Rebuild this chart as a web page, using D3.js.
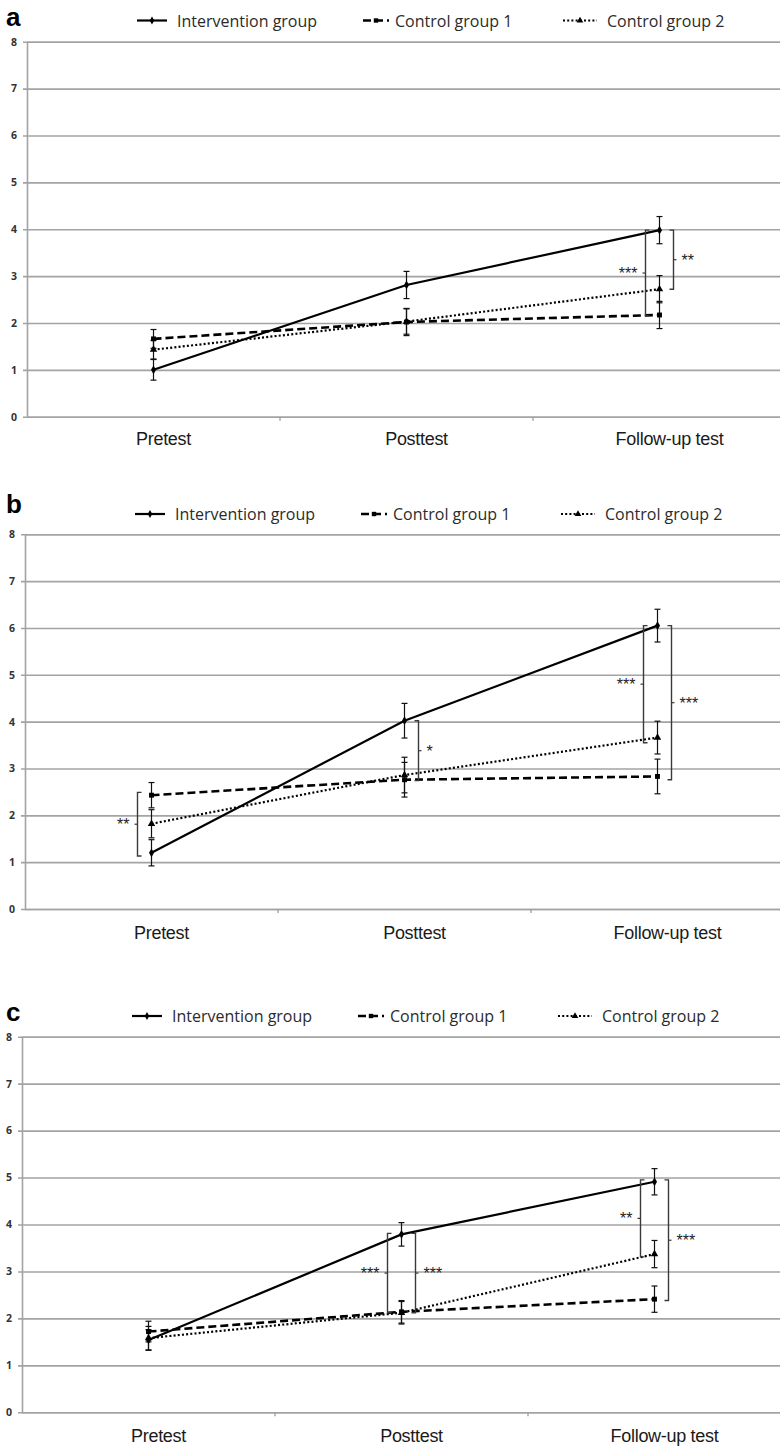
<!DOCTYPE html>
<html>
<head>
<meta charset="utf-8">
<script src="https://cdn.jsdelivr.net/npm/d3@7"></script>
<style>
  html, body { margin: 0; padding: 0; background: #fff; }
  svg { display: block; }
</style>
</head>
<body>
<svg id="chart" width="780" height="1448"></svg>
<script>
// ---------------- DATA ----------------
const categories = ["Pretest", "Posttest", "Follow-up test"];
const seriesNames = ["Intervention group", "Control group 1", "Control group 2"];
const yTicks = [0, 1, 2, 3, 4, 5, 6, 7, 8];
const panelLetters = ["a", "b", "c"];

// Panel a
const aIntervention = [1.00, 2.81, 3.98];
const aInterventionErr = [0.22, 0.29, 0.29];
const aControl1 = [1.66, 2.02, 2.17];
const aControl1Err = [0.20, 0.29, 0.29];
const aControl2 = [1.43, 2.03, 2.72];
const aControl2Err = [0.20, 0.27, 0.29];
const aBrackets = [
  { cat: 2, from: 3.98, to: 2.15, side: "left", label: "***" },
  { cat: 2, from: 3.98, to: 2.72, side: "right", label: "**" }
];

// Panel b
const bIntervention = [1.20, 4.02, 6.05];
const bInterventionErr = [0.28, 0.37, 0.35];
const bControl1 = [2.43, 2.76, 2.83];
const bControl1Err = [0.27, 0.37, 0.37];
const bControl2 = [1.82, 2.86, 3.66];
const bControl2Err = [0.30, 0.38, 0.35];
const bBrackets = [
  { cat: 0, from: 2.49, to: 1.13, side: "left", label: "**" },
  { cat: 1, from: 4.02, to: 2.74, side: "right", label: "*" },
  { cat: 2, from: 6.05, to: 3.55, side: "left", label: "***" },
  { cat: 2, from: 6.05, to: 2.76, side: "right", label: "***" }
];

// Panel c
const cIntervention = [1.54, 3.79, 4.91];
const cInterventionErr = [0.22, 0.25, 0.28];
const cControl1 = [1.72, 2.14, 2.41];
const cControl1Err = [0.22, 0.24, 0.28];
const cControl2 = [1.58, 2.12, 3.37];
const cControl2Err = [0.25, 0.24, 0.29];
const cBrackets = [
  { cat: 1, from: 3.81, to: 2.12, side: "left", label: "***" },
  { cat: 1, from: 3.81, to: 2.12, side: "right", label: "***" },
  { cat: 2, from: 4.95, to: 3.31, side: "left", label: "**" },
  { cat: 2, from: 4.95, to: 2.38, side: "right", label: "***" }
];

// ---------------- LAYOUT / STYLE ----------------
const layouts = [
  { axisX: 27, y0: 416.7, y8: 41.7, legendBase: 26.5, letterBase: 26, labelBase: 445 },
  { axisX: 25, y0: 909, y8: 534.3, legendBase: 520, letterBase: 513, labelBase: 938.5 },
  { axisX: 22, y0: 1412.3, y8: 1036.7, legendBase: 1022, letterBase: 1021, labelBase: 1442.5 }
];
const step = 253;
const W = 780;
const gridColor = "#a3a3a3";
const seriesStyles = [
  { dash: null, width: 2.2, symbol: d3.symbolDiamond, size: 22 },
  { dash: "8,4", width: 2.6, symbol: d3.symbolSquare, size: 24 },
  { dash: "2,2.2", width: 2.2, symbol: d3.symbolTriangle, size: 24 }
];
const legendOffsets = [
  { x0: 110, x1: 140, tx: 150 },
  { x0: 336, x1: 362, tx: 368 },
  { x0: 536, x1: 570, tx: 580 }
];

const panelData = [
  { values: [aIntervention, aControl1, aControl2], errs: [aInterventionErr, aControl1Err, aControl2Err], brackets: aBrackets },
  { values: [bIntervention, bControl1, bControl2], errs: [bInterventionErr, bControl1Err, bControl2Err], brackets: bBrackets },
  { values: [cIntervention, cControl1, cControl2], errs: [cInterventionErr, cControl1Err, cControl2Err], brackets: cBrackets }
];

const svg = d3.select("#chart");

panelData.forEach((pd, pi) => {
  const L = layouts[pi];
  const g = svg.append("g");
  const x = d3.scaleBand().domain(categories).range([L.axisX, L.axisX + step * categories.length]).paddingInner(0).paddingOuter(0);
  const y = d3.scaleLinear().domain([0, 8]).range([L.y0, L.y8]);
  const cx = c => x(c) + x.bandwidth() / 2;

  // y axis with gridlines
  const yAxis = d3.axisLeft(y).tickValues(yTicks).tickSize(-(W - L.axisX)).tickPadding(10).tickFormat(d3.format("d"));
  const ya = g.append("g").attr("transform", `translate(${L.axisX},0)`).call(yAxis);
  ya.select(".domain").attr("stroke", gridColor).attr("stroke-width", 1.6);
  ya.selectAll(".tick line").attr("x1", -4).attr("stroke", gridColor).attr("stroke-width", 1.6);
  ya.selectAll(".tick text")
    .attr("fill", "#333")
    .style("font-family", "'Open Sans', sans-serif")
    .style("font-weight", "bold")
    .style("font-size", "10.5px");

  // x axis
  const xAxis = d3.axisBottom(x).tickSize(0).tickPadding(0);
  const xa = g.append("g").attr("transform", `translate(0,${L.y0})`).call(xAxis);
  xa.select(".domain").remove();
  xa.selectAll(".tick text")
    .attr("y", L.labelBase - L.y0)
    .attr("dy", 0)
    .attr("dx", 10)
    .attr("fill", "#1a1a1a")
    .style("font-family", "'Liberation Sans', Arial, sans-serif")
    .style("font-size", "18px")
    .style("letter-spacing", "-0.3px");
  // category boundary ticks
  g.selectAll(".bt").data(categories.slice(0, categories.length - 1)).enter().append("line")
    .attr("x1", c => x(c) + x.bandwidth()).attr("x2", c => x(c) + x.bandwidth())
    .attr("y1", L.y0).attr("y2", L.y0 + 4)
    .attr("stroke", gridColor).attr("stroke-width", 1.4);

  // series lines
  pd.values.forEach((vals, si) => {
    const st = seriesStyles[si];
    const line = d3.line().x((d, i) => cx(categories[i])).y(d => y(d));
    g.append("path").datum(vals)
      .attr("d", line)
      .attr("fill", "none")
      .attr("stroke", "#000")
      .attr("stroke-width", st.width)
      .attr("stroke-dasharray", st.dash);
  });

  // error bars
  pd.values.forEach((vals, si) => {
    const errs = pd.errs[si];
    vals.forEach((v, i) => {
      const px = cx(categories[i]);
      const top = y(v + errs[i]), bot = y(v - errs[i]);
      g.append("line").attr("x1", px).attr("x2", px).attr("y1", top).attr("y2", bot).attr("stroke", "#111").attr("stroke-width", 1.2);
      [top, bot].forEach(yy => {
        g.append("line").attr("x1", px - 3).attr("x2", px + 3).attr("y1", yy).attr("y2", yy).attr("stroke", "#111").attr("stroke-width", 1.2);
      });
    });
  });

  // markers
  pd.values.forEach((vals, si) => {
    const st = seriesStyles[si];
    g.selectAll(null).data(vals).enter().append("path")
      .attr("d", d3.symbol().type(st.symbol).size(st.size))
      .attr("transform", (d, i) => `translate(${cx(categories[i])},${y(d)})`)
      .attr("fill", "#000");
  });

  // significance brackets
  pd.brackets.forEach(b => {
    const px = cx(categories[b.cat]);
    const dir = b.side === "left" ? -1 : 1;
    const bx = px + dir * 14;
    const y1 = y(b.from), y2 = y(b.to);
    const ym = (y1 + y2) / 2;
    const tick = -dir * 4; // end ticks point toward data
    g.append("path")
      .attr("d", `M${bx + tick},${y1} L${bx},${y1} L${bx},${y2} L${bx + tick},${y2}`)
      .attr("fill", "none").attr("stroke", "#3a3a3a").attr("stroke-width", 1.4);
    g.append("line").attr("x1", bx).attr("x2", bx + dir * 3).attr("y1", ym).attr("y2", ym)
      .attr("stroke", "#3a3a3a").attr("stroke-width", 1.2);
    g.append("text")
      .attr("x", bx + dir * 8)
      .attr("y", ym - 3 + 9)
      .attr("text-anchor", b.side === "left" ? "end" : "start")
      .attr("fill", "#222")
      .style("font-family", "'Liberation Sans', Arial, sans-serif")
      .style("font-size", "16px")
      .text(b.label);
  });

  // panel letter
  g.append("text")
    .attr("x", 6).attr("y", L.letterBase)
    .attr("fill", "#000")
    .style("font-family", "'Liberation Sans', Arial, sans-serif")
    .style("font-weight", "bold")
    .style("font-size", "26px")
    .text(panelLetters[pi]);

  // legend
  seriesNames.forEach((name, si) => {
    const st = seriesStyles[si];
    const lo = legendOffsets[si];
    const ly = L.legendBase - 6;
    const x0 = L.axisX + lo.x0, x1 = L.axisX + lo.x1;
    g.append("line").attr("x1", x0).attr("x2", x1).attr("y1", ly).attr("y2", ly)
      .attr("stroke", "#000").attr("stroke-width", st.width)
      .attr("stroke-dasharray", st.dash);
    g.append("path").attr("d", d3.symbol().type(st.symbol).size(st.size * 0.8))
      .attr("transform", `translate(${(x0 + x1) / 2},${ly})`).attr("fill", "#000");
    g.append("text")
      .attr("x", L.axisX + lo.tx).attr("y", L.legendBase)
      .attr("fill", "#2b2b2b")
      .style("font-family", "'Open Sans', sans-serif")
      .style("font-size", "16px")
      .text(name);
  });
});
</script>
</body>
</html>
